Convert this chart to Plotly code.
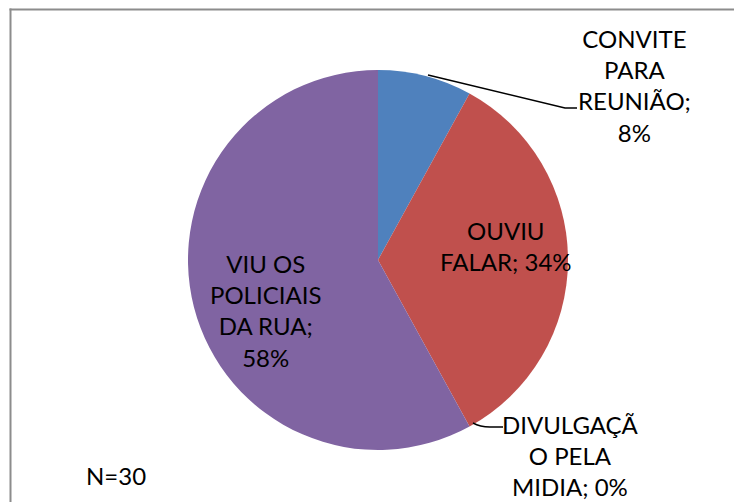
import plotly.graph_objects as go

W, H = 734, 502

categories = ["CONVITE PARA REUNIÃO", "OUVIU FALAR", "DIVULGAÇÃO PELA MIDIA", "VIU OS POLICIAIS DA RUA"]
values = [8, 34, 0, 58]
label_texts = ["CONVITE<br>PARA<br>REUNIÃO;<br>8%", "OUVIU<br>FALAR; 34%",
               "DIVULGAÇÃ<br>O PELA<br>MIDIA; 0%", "VIU OS<br>POLICIAIS<br>DA RUA;<br>58%"]
colors = ["#4F81BD", "#C0504D", "#9BBB59", "#8064A2"]
note = "N=30"


def px(x):
    return x / W


def py(y):
    return 1 - y / H


cx, cy, r = 378, 260, 190

fig = go.Figure(go.Pie(
    labels=categories, values=values, sort=False, direction="clockwise", rotation=0,
    marker=dict(colors=colors, line=dict(width=0)),
    textinfo="none", hoverinfo="label+percent", showlegend=False,
    domain=dict(x=[px(cx - r), px(cx + r)], y=[py(cy + r), py(cy - r)]),
))

font = dict(family="Lato, Open Sans, sans-serif", size=24, color="black")
label_pos = [(634, 86), (506, 246), (570, 455), (265, 310)]
annotations = []
for txt, (x, y) in zip(label_texts, label_pos):
    annotations.append(dict(text=txt, x=px(x), y=py(y), xref="paper", yref="paper",
                            xanchor="center", yanchor="middle", showarrow=False,
                            font=font, align="center"))
annotations.append(dict(text=note, x=px(116), y=py(475), xref="paper", yref="paper",
                        xanchor="center", yanchor="middle", showarrow=False, font=font))

frame = dict(color="#8c8c8c", width=2)
shapes = [
    dict(type="line", xref="paper", yref="paper", x0=px(9.5), x1=1.0, y0=py(9.5), y1=py(9.5), line=frame),
    dict(type="line", xref="paper", yref="paper", x0=px(10.5), x1=px(10.5), y0=0, y1=py(8.5), line=frame),
    dict(type="path", xref="paper", yref="paper",
         path=f"M {px(428)} {py(75)} L {px(565)} {py(108)} L {px(577)} {py(108)}",
         line=dict(color="black", width=1.5)),
    dict(type="path", xref="paper", yref="paper",
         path=f"M {px(473)} {py(423)} Q {px(480)} {py(427)} {px(490)} {py(427)} L {px(503)} {py(427)}",
         line=dict(color="black", width=1.5)),
]

fig.update_layout(width=W, height=H, margin=dict(l=0, r=0, t=0, b=0),
                  paper_bgcolor="white", plot_bgcolor="white",
                  annotations=annotations, shapes=shapes)

fig.write_html("out.html", config={"displayModeBar": False},
               post_script="document.body.style.margin='0';document.body.style.overflow='hidden';")
